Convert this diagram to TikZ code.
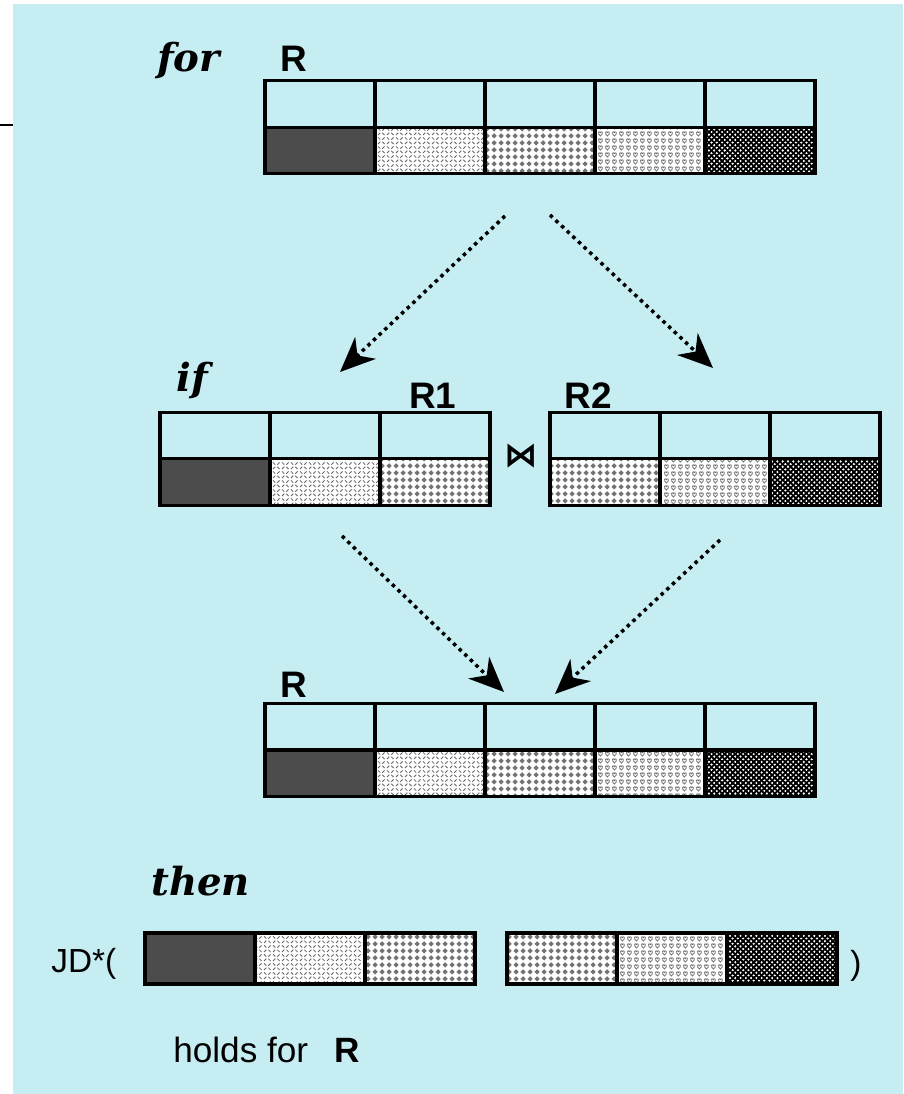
\documentclass[tikz,border=0pt]{standalone}
\usepackage{fontspec}
\setmainfont{Liberation Sans}
\newfontfamily\wordfont{DejaVu Serif}
\newfontfamily\symbfont{DejaVu Sans}
\usetikzlibrary{arrows.meta,patterns}
\definecolor{bgcyan}{RGB}{197,237,242}

% fill textures of the five columns
\pgfdeclarepatternformonly{jdDashes}{\pgfpointorigin}{\pgfpoint{5pt}{5pt}}{\pgfpoint{5pt}{5pt}}{%
  \pgfsetlinewidth{0.5pt}%
  \pgfpathmoveto{\pgfpoint{0.6pt}{0.6pt}}\pgfpathlineto{\pgfpoint{1.9pt}{1.9pt}}%
  \pgfpathmoveto{\pgfpoint{3.1pt}{1.9pt}}\pgfpathlineto{\pgfpoint{4.4pt}{0.6pt}}%
  \pgfpathmoveto{\pgfpoint{3.1pt}{3.1pt}}\pgfpathlineto{\pgfpoint{4.4pt}{4.4pt}}%
  \pgfpathmoveto{\pgfpoint{0.6pt}{4.4pt}}\pgfpathlineto{\pgfpoint{1.9pt}{3.1pt}}%
  \pgfusepath{stroke}}
\pgfdeclarepatternformonly{jdDiamonds}{\pgfpointorigin}{\pgfpoint{4pt}{4pt}}{\pgfpoint{4pt}{4pt}}{%
  \pgfpathmoveto{\pgfpoint{2pt}{0.3pt}}\pgfpathlineto{\pgfpoint{3.7pt}{2pt}}%
  \pgfpathlineto{\pgfpoint{2pt}{3.7pt}}\pgfpathlineto{\pgfpoint{0.3pt}{2pt}}%
  \pgfpathclose\pgfusepath{fill}}
\pgfdeclarepatternformonly{jdHearts}{\pgfpointorigin}{\pgfpoint{4.2pt}{4.2pt}}{\pgfpoint{4.2pt}{4.2pt}}{%
  \pgfsetlinewidth{0.5pt}%
  \pgfpathmoveto{\pgfpoint{2.1pt}{0.6pt}}%
  \pgfpathcurveto{\pgfpoint{1.3pt}{1.4pt}}{\pgfpoint{0.5pt}{2pt}}{\pgfpoint{1pt}{2.9pt}}%
  \pgfpathcurveto{\pgfpoint{1.4pt}{3.5pt}}{\pgfpoint{2.1pt}{3.1pt}}{\pgfpoint{2.1pt}{2.6pt}}%
  \pgfpathcurveto{\pgfpoint{2.1pt}{3.1pt}}{\pgfpoint{2.8pt}{3.5pt}}{\pgfpoint{3.2pt}{2.9pt}}%
  \pgfpathcurveto{\pgfpoint{3.7pt}{2pt}}{\pgfpoint{2.9pt}{1.4pt}}{\pgfpoint{2.1pt}{0.6pt}}%
  \pgfpathclose\pgfusepath{stroke}}
\pgfdeclarepatternformonly{jdWoven}{\pgfpoint{-1pt}{-1pt}}{\pgfpoint{4pt}{4pt}}{\pgfpoint{3pt}{3pt}}{%
  \pgfsetlinewidth{0.9pt}%
  \pgfpathmoveto{\pgfpoint{-1pt}{-1pt}}\pgfpathlineto{\pgfpoint{4pt}{4pt}}%
  \pgfpathmoveto{\pgfpoint{-1pt}{4pt}}\pgfpathlineto{\pgfpoint{4pt}{-1pt}}%
  \pgfusepath{stroke}}

\begin{document}
\begin{tikzpicture}[
  x=0.02cm, y=-0.02cm,
  cellbox/.style={draw, line width=1.8pt, inner sep=0pt, outer sep=0pt,
    minimum width=2.2cm, minimum height=0.93cm},
  hdr/.style={cellbox},
  pat1/.style={cellbox, fill=black!70},
  pat2/.style={cellbox, preaction={fill=white}, pattern=jdDashes, pattern color=black!60},
  pat3/.style={cellbox, preaction={fill=white}, pattern=jdDiamonds, pattern color=black!55},
  pat4/.style={cellbox, preaction={fill=white}, pattern=jdHearts, pattern color=black!55},
  pat5/.style={cellbox, preaction={fill=white}, pattern=jdWoven, pattern color=black},
  strip/.style={minimum height=1.02cm},
  lbl/.style={font=\fontsize{21}{25}\selectfont\bfseries, anchor=base west, inner sep=0pt},
  plain/.style={font=\fontsize{19}{23}\selectfont, anchor=base west, inner sep=0pt},
  word/.style={font=\wordfont\bfseries\itshape\fontsize{22}{26}\selectfont, anchor=base west, inner sep=0pt},
  flow/.style={line width=2pt, dash pattern=on 2pt off 2.4pt,
    -{Stealth[length=0.7cm, width=0.6cm, inset=0.22cm]}}
]
\useasboundingbox (0,0) rectangle (903,1094);
\fill[bgcyan] (13,4) rectangle (903,1094);
\draw[line width=1.2pt] (0,125) -- (13,125);

% for R
\node[word] (for) at (157,72) {for};
\node[lbl] (rtop) at (280,72) {R};
\foreach \i in {1,...,5} {
  \node[hdr] (th\i) at ({210+110*\i},104) {};
  \node[pat\i] (tc\i) at ({210+110*\i},150.5) {};
}

% if R1 join R2
\node[word] (if) at (176,392) {if};
\node[lbl] (rone) at (409,408) {R1};
\node[lbl] (rtwo) at (564,408) {R2};
\foreach \i in {1,2,3} {
  \node[hdr] (ah\i) at ({105+110*\i},436) {};
  \node[pat\i] (ac\i) at ({105+110*\i},482) {};
}
\foreach \i/\p in {1/3,2/4,3/5} {
  \node[hdr] (bh\i) at ({495+110*\i},436) {};
  \node[pat\p] (bc\i) at ({495+110*\i},482) {};
}
\node[font=\symbfont\bfseries\fontsize{19}{23}\selectfont, inner sep=0pt] (bowtie) at (521,456) {⋈};

% R again
\node[lbl] (rbot) at (280,697) {R};
\foreach \i in {1,...,5} {
  \node[hdr] (bth\i) at ({210+110*\i},726.5) {};
  \node[pat\i] (btc\i) at ({210+110*\i},773.5) {};
}

% then JD*( ... )
\node[word] (then) at (151,895) {then};
\node[plain] (jd) at (51,972) {JD*(};
\foreach \i in {1,2,3} {
  \node[pat\i, strip] (sa\i) at ({90+110*\i},958.5) {};
}
\foreach \i/\p in {1/3,2/4,3/5} {
  \node[pat\p, strip] (sb\i) at ({452+110*\i},958.5) {};
}
\node[plain] (close) at (850,974) {)};
\node[plain, font=\fontsize{20}{24}\selectfont] (holds) at (173,1062) {holds for\hspace{0.75em}\textbf{R}};

% dotted arrows
\coordinate (s1) at (505,216);
\coordinate (e1) at (340,372);
\coordinate (s2) at (550,215);
\coordinate (e2) at (713,368);
\coordinate (s3) at (342,536);
\coordinate (e3) at (504,692);
\coordinate (s4) at (720,540);
\coordinate (e4) at (555,694);
\draw[flow] (s1) -- (e1);
\draw[flow] (s2) -- (e2);
\draw[flow] (s3) -- (e3);
\draw[flow] (s4) -- (e4);
\end{tikzpicture}
\end{document}
